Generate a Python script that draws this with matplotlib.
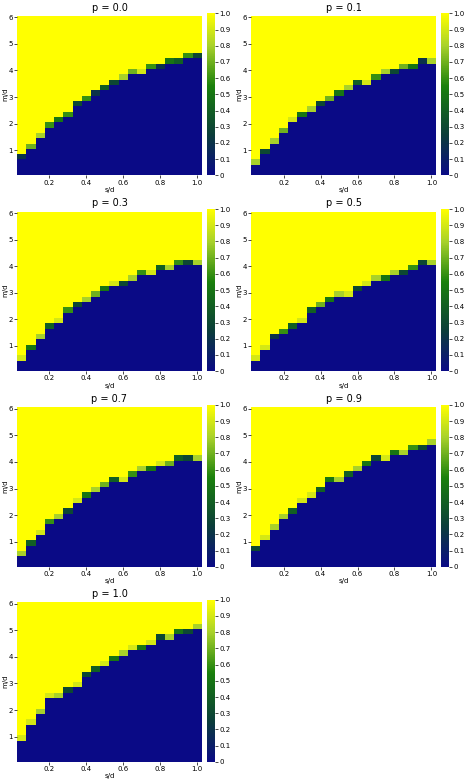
import numpy as np
import matplotlib
matplotlib.use("Agg")
import matplotlib.pyplot as plt
from matplotlib.colors import LinearSegmentedColormap

# s/d column centres and m/d row edges
s_d = [0.05, 0.10, 0.15, 0.20, 0.25, 0.30, 0.35, 0.40, 0.45, 0.50,
       0.55, 0.60, 0.65, 0.70, 0.75, 0.80, 0.85, 0.90, 0.95, 1.00]
n_rows = 30

p_values = ["0.0", "0.1", "0.3", "0.5", "0.7", "0.9", "1.0"]

# number of fully blue (0) cells per column
blue_cells = {
    "0.0": [3, 5, 7, 9, 10, 11, 13, 14, 15, 16, 17, 18, 19, 19, 20, 20, 21, 21, 22, 22],
    "0.1": [2, 4, 6, 8, 10, 11, 12, 13, 14, 15, 16, 17, 17, 18, 19, 19, 20, 20, 21, 21],
    "0.3": [2, 4, 6, 8, 9, 11, 12, 13, 14, 15, 16, 16, 17, 18, 18, 19, 19, 20, 20, 20],
    "0.5": [2, 4, 6, 7, 8, 9, 11, 12, 13, 14, 14, 15, 16, 17, 17, 18, 18, 19, 20, 20],
    "0.7": [2, 4, 6, 8, 9, 10, 12, 13, 14, 15, 16, 16, 17, 18, 18, 19, 19, 20, 20, 20],
    "0.9": [3, 5, 7, 9, 10, 12, 13, 14, 16, 16, 17, 18, 19, 20, 20, 21, 21, 22, 22, 23],
    "1.0": [4, 7, 9, 12, 12, 13, 14, 16, 17, 18, 19, 20, 21, 21, 22, 23, 23, 24, 24, 25],
}
# value of the transition cell just above the blue region
edge_values = {
    "0.0": [0.2, 0.7, 0.8, 0.6, 0.5, 0.6, 0.3, 0.6, 0.2, 0.4, 0.3, 0.8, 0.7, 0.9, 0.6, 0.2, 0.5, 0.4, 0.6, 0.3],
    "0.1": [0.8, 0.3, 0.8, 0.7, 0.9, 0.5, 0.8, 0.3, 0.7, 0.5, 0.8, 0.4, 0.9, 0.6, 0.8, 0.3, 0.7, 0.5, 0.2, 0.8],
    "0.3": [0.9, 0.5, 0.8, 0.4, 0.9, 0.6, 0.3, 0.8, 0.7, 0.5, 0.9, 0.3, 0.8, 0.6, 0.9, 0.4, 0.8, 0.6, 0.3, 0.8],
    "0.5": [0.9, 0.9, 0.2, 0.6, 0.4, 0.9, 0.4, 0.7, 0.5, 0.8, 0.9, 0.3, 0.9, 0.8, 0.5, 0.8, 0.3, 0.6, 0.3, 0.8],
    "0.7": [0.8, 0.4, 0.9, 0.6, 0.8, 0.3, 0.9, 0.5, 0.8, 0.7, 0.4, 0.9, 0.6, 0.8, 0.5, 0.9, 0.7, 0.4, 0.3, 0.8],
    "0.9": [0.3, 0.9, 0.8, 0.8, 0.4, 0.9, 0.9, 0.4, 0.5, 0.8, 0.4, 0.8, 0.5, 0.3, 0.9, 0.5, 0.8, 0.6, 0.3, 0.8],
    "1.0": [0.9, 0.9, 0.8, 0.9, 0.8, 0.3, 0.9, 0.3, 0.4, 0.9, 0.5, 0.8, 0.9, 0.5, 0.9, 0.3, 0.8, 0.5, 0.3, 0.8],
}

cmap = LinearSegmentedColormap.from_list(
    "bgy", [(0.0, "#0a0a86"), (0.25, "#0b3d3a"), (0.55, "#1a800c"),
            (0.8, "#a8d12a"), (1.0, "#ffff00")])

x_edges = np.append(np.array(s_d) - 0.025, s_d[-1] + 0.025)
y_edges = 0.05 + 0.2 * np.arange(n_rows + 1)

fig = plt.figure(figsize=(4.74, 7.83), dpi=100)
positions = [(0.036, 0.776), (0.53, 0.776), (0.036, 0.526), (0.53, 0.526),
             (0.036, 0.276), (0.53, 0.276), (0.036, 0.027)]
w, h = 0.39, 0.207

for p, (x0, y0) in zip(p_values, positions):
    grid = np.ones((n_rows, len(s_d)))
    for j, (nb, ev) in enumerate(zip(blue_cells[p], edge_values[p])):
        grid[:nb, j] = 0.0
        grid[nb, j] = ev
    ax = fig.add_axes([x0, y0, w, h])
    mesh = ax.pcolormesh(x_edges, y_edges, grid, cmap=cmap, vmin=0, vmax=1)
    ax.set_xlim(x_edges[0], x_edges[-1])
    ax.set_ylim(0.05, 6.15)
    ax.set_xticks([0.2, 0.4, 0.6, 0.8, 1.0])
    ax.set_xticklabels(["0.2", "0.4", "0.6", "0.8", "1.0"])
    ax.set_yticks([1, 2, 3, 4, 5, 6])
    ax.tick_params(labelsize=5, length=2, width=0.5, pad=1)
    for sp in ax.spines.values():
        sp.set_visible(False)
    ax.set_title("p = " + p, fontsize=7, pad=2)
    ax.set_xlabel("s/d", fontsize=5, labelpad=1)
    ax.set_ylabel("m/d", fontsize=5, labelpad=0)
    cax = fig.add_axes([x0 + w + 0.01, y0, 0.018, h])
    cb = fig.colorbar(mesh, cax=cax, ticks=np.linspace(0, 1, 11))
    cb.ax.set_yticklabels(["0", "0.1", "0.2", "0.3", "0.4", "0.5", "0.6",
                           "0.7", "0.8", "0.9", "1.0"])
    cb.ax.tick_params(labelsize=5, length=2, width=0.5, pad=1)
    cb.outline.set_visible(False)

fig.savefig("out.png", dpi=100)
